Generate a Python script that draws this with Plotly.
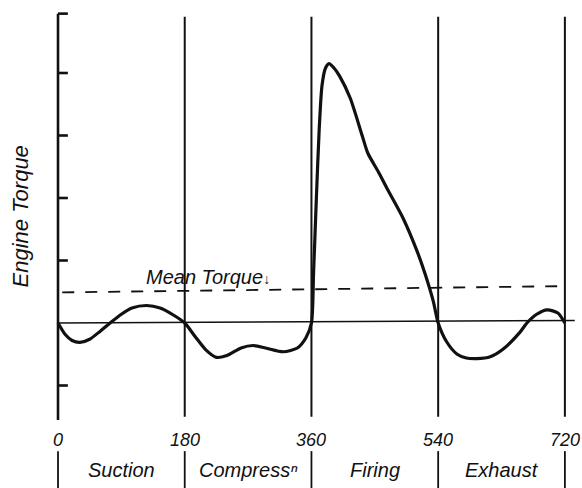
import plotly.graph_objects as go

# ---------------- data ----------------
crank_angle = [0, 10, 20, 31, 45, 60, 74, 90, 105, 126, 145, 165, 180,
               195, 210, 225, 240, 260, 277, 295, 320, 340, 352, 360,
               363, 367, 371, 375, 380, 385, 392, 400, 415, 432, 440, 455,
               467, 490, 510, 521, 533, 540,
               552, 567, 580, 595, 614, 632, 656, 666, 680, 695, 710, 720]
engine_torque = [0.0, -0.18, -0.28, -0.31, -0.26, -0.13, 0.0, 0.14, 0.24, 0.28, 0.24, 0.12, 0.0,
                 -0.22, -0.43, -0.55, -0.52, -0.40, -0.36, -0.40, -0.46, -0.40, -0.24, 0.0,
                 0.8, 2.0, 3.1, 3.8, 4.08, 4.15, 4.08, 3.95, 3.6, 3.0, 2.72, 2.42,
                 2.16, 1.68, 1.15, 0.8, 0.35, 0.0,
                 -0.3, -0.5, -0.56, -0.57, -0.54, -0.42, -0.15, 0.0, 0.14, 0.21, 0.16, 0.0]
mean_torque = 0.52
stroke_bounds = [0, 180, 360, 540, 720]
stroke_tick_labels = ["0", "180", "360", "540", "720"]
stroke_names = ["Suction", "Compressⁿ", "Firing", "Exhaust"]
torque_ticks = [-1, 1, 2, 3, 4, 4.95]

# ---------------- figure ----------------
ink = "#111111"
fnt = dict(family="Liberation Sans", color=ink, style="italic")
X0, X1 = -82.4, 744.3
Y0, Y1 = -2.64, 5.168

fig = go.Figure()
shapes = []
annos = []

# vertical y-axis
shapes.append(dict(type="line", x0=0, x1=0, y0=-1.55, y1=4.95,
                   line=dict(color=ink, width=2.6)))
for t in torque_ticks:
    shapes.append(dict(type="line", x0=0, x1=14, y0=t, y1=t,
                       line=dict(color=ink, width=2.6)))

# stroke boundary lines
for b in stroke_bounds[1:]:
    shapes.append(dict(type="line", x0=b, x1=b, y0=-1.5, y1=4.9,
                       line=dict(color=ink, width=2.0)))
# separators below labels
for b in stroke_bounds:
    shapes.append(dict(type="line", x0=b, x1=b, y0=-2.05, y1=-2.64,
                       line=dict(color=ink, width=1.8)))

# zero line
shapes.append(dict(type="line", x0=0, x1=734, y0=0, y1=0.04,
                   line=dict(color=ink, width=1.6)))
# mean torque dashed line
shapes.append(dict(type="line", x0=6, x1=720, y0=mean_torque - 0.03, y1=mean_torque + 0.07,
                   line=dict(color=ink, width=1.8, dash="12px,11px")))

fig.add_trace(go.Scatter(x=crank_angle, y=engine_torque, mode="lines",
                         line=dict(color=ink, width=3.2, shape="spline", smoothing=0.7),
                         hoverinfo="skip", showlegend=False))

for b, lab in zip(stroke_bounds, stroke_tick_labels):
    annos.append(dict(x=b, y=-1.87, text=lab, showarrow=False,
                      font=dict(size=18, **fnt), xanchor="center", yanchor="middle"))
for i, name in enumerate(stroke_names):
    annos.append(dict(x=(stroke_bounds[i] + stroke_bounds[i + 1]) / 2, y=-2.35, text=name,
                      showarrow=False, font=dict(size=20, **fnt),
                      xanchor="center", yanchor="middle"))

annos.append(dict(x=213, y=0.74, text="Mean Torque<span style='font-size:14px'>↓</span>",
                  showarrow=False, font=dict(size=20, **fnt), xanchor="center", yanchor="middle"))
annos.append(dict(x=-53, y=1.70, text="Engine Torque", showarrow=False, textangle=-90,
                  font=dict(size=22, **fnt), xanchor="center", yanchor="middle"))

fig.update_layout(
    width=582, height=488,
    margin=dict(l=0, r=0, t=0, b=0),
    paper_bgcolor="white", plot_bgcolor="white",
    xaxis=dict(range=[X0, X1], visible=False, fixedrange=True),
    yaxis=dict(range=[Y0, Y1], visible=False, fixedrange=True),
    shapes=shapes, annotations=annos,
)

fig.write_html("out.html", include_plotlyjs=True, config={"displayModeBar": False},
               post_script="document.body.style.margin='0';document.body.style.overflow='hidden';")
